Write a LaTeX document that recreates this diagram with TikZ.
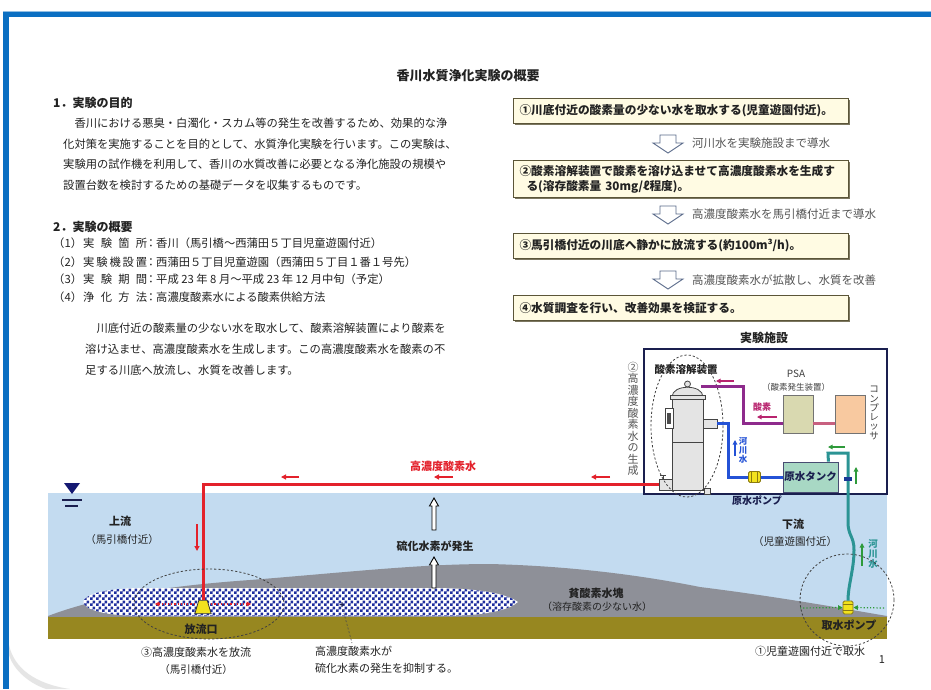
\documentclass[tikz,border=0pt]{standalone}
\usepackage{fontspec}
\setmainfont{Noto Sans CJK JP}
\usetikzlibrary{arrows.meta,patterns,shadows,calc}

\newcommand\setfs[1]{\fontsize{#1}{#1}\selectfont}

\definecolor{frameblue}{HTML}{0B6FC2}
\definecolor{water}{HTML}{C3DBF0}
\definecolor{mound}{HTML}{8E9098}
\definecolor{bed}{HTML}{978720}
\definecolor{pipered}{HTML}{E3212B}
\definecolor{pipeblue}{HTML}{2452D6}
\definecolor{pipeteal}{HTML}{2B9494}
\definecolor{oxy}{HTML}{8E2A8C}
\definecolor{oxylabel}{HTML}{B8246E}
\definecolor{pinkpipe}{HTML}{C86080}
\definecolor{boxline}{HTML}{5B5538}
\definecolor{boxfill}{HTML}{FFFBE3}
\definecolor{note}{HTML}{555555}
\definecolor{ink}{HTML}{222222}
\definecolor{navy}{HTML}{1A1F4F}
\definecolor{checker}{HTML}{1E2E9E}
\definecolor{arrowgreen}{HTML}{2E9A3A}
\definecolor{arrowline}{HTML}{5A6A8A}
\definecolor{tankfill}{HTML}{E4E4E4}
\definecolor{tankline}{HTML}{444444}
\definecolor{psafill}{HTML}{D9D9B0}
\definecolor{compfill}{HTML}{F8C9A0}
\definecolor{rawfill}{HTML}{A8D8C4}
\definecolor{pumpfill}{HTML}{F2E21E}
\definecolor{pumpline}{HTML}{8A7A10}

% checkerboard of 3pt squares
\pgfdeclarepatternformonly{checks}{\pgfqpoint{0pt}{0pt}}{\pgfqpoint{6pt}{6pt}}{\pgfqpoint{6pt}{6pt}}{%
  \pgfpathrectangle{\pgfqpoint{0pt}{0pt}}{\pgfqpoint{3pt}{3pt}}%
  \pgfpathrectangle{\pgfqpoint{3pt}{3pt}}{\pgfqpoint{3pt}{3pt}}%
  \pgfusepath{fill}}

% hollow down arrow: centre x, top y
\newcommand\hollowdown[2]{%
  \filldraw[fill=white, draw=arrowline, line width=0.9pt, line join=miter]
    (#1-8,#2) -- (#1+8,#2) -- (#1+8,#2+8) -- (#1+15,#2+8) -- (#1,#2+18)
    -- (#1-15,#2+8) -- (#1-8,#2+8) -- cycle;}
% thin hollow up arrow: centre x, tip y, base y
\newcommand\hollowup[3]{%
  \filldraw[fill=white, draw=black, line width=0.9pt, line join=miter]
    (#1,#2) -- (#1+4.5,#2+8) -- (#1+2,#2+8) -- (#1+2,#3) -- (#1-2,#3)
    -- (#1-2,#2+8) -- (#1-4.5,#2+8) -- cycle;}

\begin{document}
\begin{tikzpicture}[x=1pt,y=-1pt,
  txt/.style={inner sep=0pt, text=ink},
  body/.style={txt, anchor=base west, font=\setfs{11.3}},
  head/.style={txt, anchor=base west, font=\bfseries\setfs{12}},
  label/.style={txt, font=\bfseries\setfs{11}},
  flowbox/.style={draw=boxline, fill=boxfill, line width=1pt, anchor=north west,
    text width=323pt, inner xsep=6pt, inner ysep=0pt, align=left,
    font=\bfseries\setfs{11.7}, text=ink,
    drop shadow={shadow xshift=1.3pt, shadow yshift=-1.3pt, fill=boxline!80, opacity=1}},
  flownote/.style={txt, anchor=west, text=note, font=\setfs{11.5}},
  redarrow/.style={pipered, line width=1.3pt, -{Triangle[length=5pt,width=5pt]}},
  greenarrow/.style={arrowgreen, line width=1.2pt, -{Triangle[length=4.5pt,width=4.5pt]}},
  oxyarrow/.style={oxylabel, line width=1.2pt, -{Triangle[length=4.5pt,width=4.5pt]}},
  pipe/.style={line width=3pt},
  pump/.style={draw=pumpline, fill=pumpfill, line width=0.8pt, rounded corners=1.5pt, inner sep=0pt},
  machine/.style={draw=black!55, line width=0.8pt, inner sep=0pt},
  ring/.style={dashed, dash pattern=on 2.2pt off 2pt, line width=0.8pt, black!75}
]
\useasboundingbox (0,0) rectangle (931,689);
\fill[white] (0,0) rectangle (931,689);

% ---------- page frame ----------
\fill[frameblue!45] (3,10.5) rectangle (931,12);
\fill[frameblue] (3,12) rectangle (931,17);
\fill[frameblue] (3,12) rectangle (8.5,689);
\fill[black!10] (9,645) .. controls (14,668) and (35,684) .. (70,689) -- (46,689)
  .. controls (26,682) and (13,668) .. (9,655) -- cycle;

% ---------- title ----------
\node[txt, font=\bfseries\setfs{13}] (title) at (468,76) {香川水質浄化実験の概要};

% ---------- section 1 ----------
\node[head] (h1) at (53,107) {1．実験の目的};
\node[body] (p1) at (63,127) {　香川における悪臭・白濁化・スカム等の発生を改善するため、効果的な浄};
\node[body] (p2) at (63,148) {化対策を実施することを目的として、水質浄化実験を行います。この実験は、};
\node[body] (p3) at (63,168) {実験用の試作機を利用して、香川の水質改善に必要となる浄化施設の規模や};
\node[body] (p4) at (63,189) {設置台数を検討するための基礎データを収集するものです。};

% ---------- section 2 ----------
\node[head] (h2) at (53,231) {2．実験の概要};
\node[body] (k1) at (53,247) {（1）};
\node[body] (l1) at (83,247) {\makebox[64pt][s]{実\hfill 験\hfill 箇\hfill 所}};
\node[body, anchor=base] (c1) at (151,247) {：};
\node[body] (v1) at (156,247) {香川（馬引橋～西蒲田５丁目児童遊園付近）};
\node[body] (k2) at (53,266) {（2）};
\node[body] (l2) at (83,266) {\makebox[64pt][s]{実\hfill 験\hfill 機\hfill 設\hfill 置}};
\node[body, anchor=base] (c2) at (151,266) {：};
\node[body] (v2) at (156,266) {西蒲田５丁目児童遊園（西蒲田５丁目１番１号先）};
\node[body] (k3) at (53,283) {（3）};
\node[body] (l3) at (83,283) {\makebox[64pt][s]{実\hfill 験\hfill 期\hfill 間}};
\node[body, anchor=base] (c3) at (151,283) {：};
\node[body] (v3) at (156,283) {平成 23 年 8 月～平成 23 年 12 月中旬（予定）};
\node[body] (k4) at (53,301) {（4）};
\node[body] (l4) at (83,301) {\makebox[64pt][s]{浄\hfill 化\hfill 方\hfill 法}};
\node[body, anchor=base] (c4) at (151,301) {：};
\node[body] (v4) at (156,301) {高濃度酸素水による酸素供給方法};
\node[body] (q1) at (85,332) {　川底付近の酸素量の少ない水を取水して、酸素溶解装置により酸素を};
\node[body] (q2) at (85,353) {溶け込ませ、高濃度酸素水を生成します。この高濃度酸素水を酸素の不};
\node[body] (q3) at (85,374) {足する川底へ放流し、水質を改善します。};

% ---------- procedure boxes ----------
\node[flowbox, minimum height=25pt] (b1) at (513,98) {①川底付近の酸素量の少ない水を取水する(児童遊園付近)。};
\node[flowbox, minimum height=37pt, font=\bfseries\fontsize{11.7}{15}\selectfont] (b2) at (513,160)
  {②酸素溶解装置で酸素を溶け込ませて高濃度酸素水を生成す\\\hspace*{7pt}る(溶存酸素量 30mg/ℓ程度)。};
\node[flowbox, minimum height=25pt] (b3) at (513,233) {③馬引橋付近の川底へ静かに放流する(約100m³/h)。};
\node[flowbox, minimum height=25pt] (b4) at (513,295) {④水質調査を行い、改善効果を検証する。};

\hollowdown{668}{135}
\hollowdown{668}{206}
\hollowdown{668}{271}
\node[flownote] (n1) at (692,143) {河川水を実験施設まで導水};
\node[flownote] (n2) at (692,214) {高濃度酸素水を馬引橋付近まで導水};
\node[flownote] (n3) at (692,280) {高濃度酸素水が拡散し、水質を改善};

% ---------- river section ----------
\fill[water] (48,493) rectangle (887,617);
\fill[mound] (48,617) -- (48,616) .. controls (90,600) and (150,587) .. (250,580)
  .. controls (350,572) and (420,564) .. (490,564)
  .. controls (570,566) and (640,575) .. (700,587)
  .. controls (780,597) and (840,608) .. (887,616) -- (887,617) -- cycle;
\fill[bed] (48,617) rectangle (887,639);

% oxygen-rich water spreading over the bed
\def\plume{(83,602) .. controls (85,594) and (105,588) .. (145,588) -- (440,588)
  .. controls (490,589) and (510,596) .. (518,602)
  .. controls (510,609) and (490,616) .. (440,616) -- (145,616)
  .. controls (105,616) and (85,610) .. (83,602) -- cycle}
\fill[white] \plume;
\fill[pattern=checks, pattern color=checker] \plume;

% water surface mark
\fill[navy!80!blue] (64,483) -- (80,483) -- (72,494) -- cycle;
\draw[navy, line width=1.2pt] (62,500) -- (82,500);
\draw[navy, line width=1.2pt] (65,506) -- (78,506);

% ---------- facility ----------
\node[txt, font=\bfseries\setfs{12}] (factitle) at (764,338) {実験施設};
\node[draw=navy, line width=1.8pt, fill=white, minimum width=243pt, minimum height=145pt,
  anchor=north west, inner sep=0pt] (fac) at (643,348) {};

\node[txt, text=note, align=center, font=\fontsize{11}{11.45}\selectfont, anchor=north] (vgen)
  at (633,362) {②\\高\\濃\\度\\酸\\素\\水\\の\\生\\成};

% oxygen dissolver
\begin{scope}[draw=tankline, line width=0.8pt]
  \filldraw[fill=tankfill] (672,397) rectangle (703,490);
  \filldraw[fill=tankfill] (672,397) .. controls (672,384) and (703,384) .. (703,397) -- cycle;
  \filldraw[fill=tankfill] (670,395) rectangle (705,399);
  \draw (672,442) -- (703,442);
  \filldraw[fill=tankfill] (687.5,384) circle (3);
  \filldraw[fill=white] (665,408) rectangle (673,428);
  \fill[black!70] (667,413) rectangle (671,424);
  \filldraw[fill=tankfill] (703,419) rectangle (717,428);
  \filldraw[fill=tankfill] (659,479) rectangle (672,490);
  \draw (663,479) -- (663,475) (660,475) -- (666,475);
  \filldraw[fill=tankfill] (704,488) rectangle (710,494);
\end{scope}
\coordinate (disOut) at (701,386);
\coordinate (disIn) at (717,423.5);
\coordinate (disValve) at (659,484);
\draw[ring] (687,426) ellipse [x radius=36, y radius=71];
\node[txt, font=\bfseries\setfs{10.5}] (dislabel) at (686,369) {酸素溶解装置};

% PSA and compressor
\node[machine, fill=psafill, minimum width=30pt, minimum height=38pt] (psa) at (798,414) {};
\node[machine, fill=compfill, minimum width=30pt, minimum height=38pt] (comp) at (850,414) {};
\node[txt, text=black!75, font=\setfs{10}] (psalabel) at (796,374) {PSA};
\node[txt, text=black!75, font=\setfs{8.5}] (psasub) at (796,387) {（酸素発生装置）};
\node[txt, text=black!75, align=center, font=\fontsize{9.5}{9.3}\selectfont, anchor=north] (complabel)
  at (874,386) {コ\\ン\\プ\\レ\\ッ\\サ};

% raw water tank and pump
\node[draw=navy!80, line width=0.8pt, fill=rawfill, minimum width=55pt, minimum height=30pt,
  inner sep=0pt, font=\bfseries\setfs{10.5}, text=navy] (rawtank) at (810.5,477) {原水タンク};
\node[pump, minimum width=12pt, minimum height=11pt] (rawpump) at (754.5,477) {};
\draw[pumpline, line width=0.6pt] ([xshift=-3pt]rawpump.north) -- ([xshift=-3pt]rawpump.south)
  ([xshift=3pt]rawpump.north) -- ([xshift=3pt]rawpump.south);
\node[label, text=navy, font=\bfseries\setfs{10}] (rawpumplabel) at (757,501) {原水ポンプ};

% oxygen line
\draw[pipe, oxy] (disOut) -- (743,386) |- ([yshift=-9pt]psa.west);
\draw[pipe, pinkpipe] ([yshift=-9pt]comp.west) -- ([yshift=-9pt]psa.east);
\draw[oxyarrow] (734,381) -- (716,381);
\draw[oxyarrow] (777,417) -- (757,417);
\node[txt, text=oxylabel, font=\bfseries\setfs{9}] (oxytext) at (762,407) {酸素};

% river water into the dissolver
\draw[pipe, pipeblue] (disIn) -- ++(11,0) |- (rawpump.west);
\draw[pipe, pipeblue] (rawpump.east) -- (rawtank.west);
\draw[pipeblue, line width=1.2pt, -{Triangle[length=4.5pt,width=4.5pt]}] (735,456) -- (735,440);
\node[txt, text=pipeblue, align=center, font=\bfseries\fontsize{8.5}{9}\selectfont, anchor=north]
  (bluelabel) at (743,437) {河\\川\\水};

% intake pump and its line
\node[pump, minimum width=10pt, minimum height=13pt] (intake) at (848,607.5) {};
\draw[pumpline, line width=0.6pt] ([yshift=3pt]intake.west) -- ([yshift=3pt]intake.east)
  ([yshift=-3pt]intake.west) -- ([yshift=-3pt]intake.east);
\draw[pipe, pipeteal] ([xshift=-10pt]rawtank.north east) -- (828,453) -- (848,453) -- (848,522)
  .. controls (848,536) and (854,536) .. (854,550)
  .. controls (854,570) and (848,585) .. (intake.north);
\fill[pipeblue!70!black] (844,477) rectangle (852,481);
\draw[greenarrow] (845,447) -- (828,447);
\draw[greenarrow] (856,484) -- (856,467);
\draw[greenarrow] (862,566) -- (862,543);
\node[txt, text=pipeteal, align=center, font=\bfseries\fontsize{9.5}{10}\selectfont, anchor=north]
  (teallabel) at (873,539) {河\\川\\水};
\draw[arrowgreen, line width=1.2pt, dotted, -{Triangle[length=4.5pt,width=4.5pt]}]
  (800,608) -- (intake.west);
\draw[arrowgreen, line width=1.2pt, dotted, -{Triangle[length=4.5pt,width=4.5pt]}]
  (884,608) -- (intake.east);
\draw[ring] (847,600) ellipse [x radius=47, y radius=46];
\node[label] (intakelabel) at (849,625) {取水ポンプ};

% ---------- discharge line ----------
\node[minimum width=16pt, minimum height=13pt, inner sep=0pt] (outlet) at (203,607) {};
\filldraw[draw=black!80, fill=pumpfill, line width=0.8pt]
  ([xshift=4pt]outlet.north west) -- ([xshift=-4pt]outlet.north east)
  -- (outlet.south east) -- (outlet.south west) -- cycle;
\draw[pipe, pipered] (disValve) -| (outlet.north);
\draw[redarrow] (299,477) -- (281,477);
\draw[redarrow] (453,477) -- (434,477);
\draw[redarrow] (610,477) -- (591,477);
\draw[redarrow] (197,524) -- (197,551);
\node[txt, text=pipered, font=\bfseries\setfs{11}] (redlabel) at (443,466) {高濃度酸素水};
\draw[pipered, line width=1.2pt, dotted, -{Triangle[length=4.5pt,width=4.5pt]}]
  ([yshift=3pt]outlet.west) -- ++(-40,0);
\draw[pipered, line width=1.2pt, dotted, -{Triangle[length=4.5pt,width=4.5pt]}]
  ([yshift=3pt]outlet.east) -- ++(40,0);
\draw[ring] (209,604) ellipse [x radius=75, y radius=35];
\node[label] (outletlabel) at (201,629) {放流口};

% ---------- scene labels ----------
\node[label] (up1) at (120,521) {上流};
\node[txt, font=\setfs{10.5}] (up2) at (122,539) {（馬引橋付近）};
\node[label] (down1) at (793,524) {下流};
\node[txt, font=\setfs{10.5}] (down2) at (795,541) {（児童遊園付近）};

\hollowup{434}{498}{530}
\hollowup{434}{557}{588}
\node[label] (h2s) at (435,546) {硫化水素が発生};
\node[label] (lowdo1) at (596,593) {貧酸素水塊};
\node[txt, font=\setfs{10}] (lowdo2) at (597,607) {（溶存酸素の少ない水）};

\node[txt, text=navy, font=\bfseries\setfs{9}] (plumemark) at (342,606) {+};
\node[txt, anchor=base west, font=\setfs{11}] (cap2a) at (315,655) {高濃度酸素水が};
\node[txt, anchor=base west, font=\setfs{11}] (cap2b) at (315,672) {硫化水素の発生を抑制する。};
\draw[dashed, dash pattern=on 2pt off 1.8pt, black!70, line width=0.6pt] (plumemark) -- (352,643);

\node[txt, font=\setfs{11}] (cap1a) at (196,652) {③高濃度酸素水を放流};
\node[txt, font=\setfs{10.5}] (cap1b) at (196,669) {（馬引橋付近）};
\node[txt, font=\setfs{11}] (cap3) at (810,651) {①児童遊園付近で取水};
\node[txt, font=\setfs{11}] (pageno) at (882,660) {1};

\end{tikzpicture}
\end{document}
